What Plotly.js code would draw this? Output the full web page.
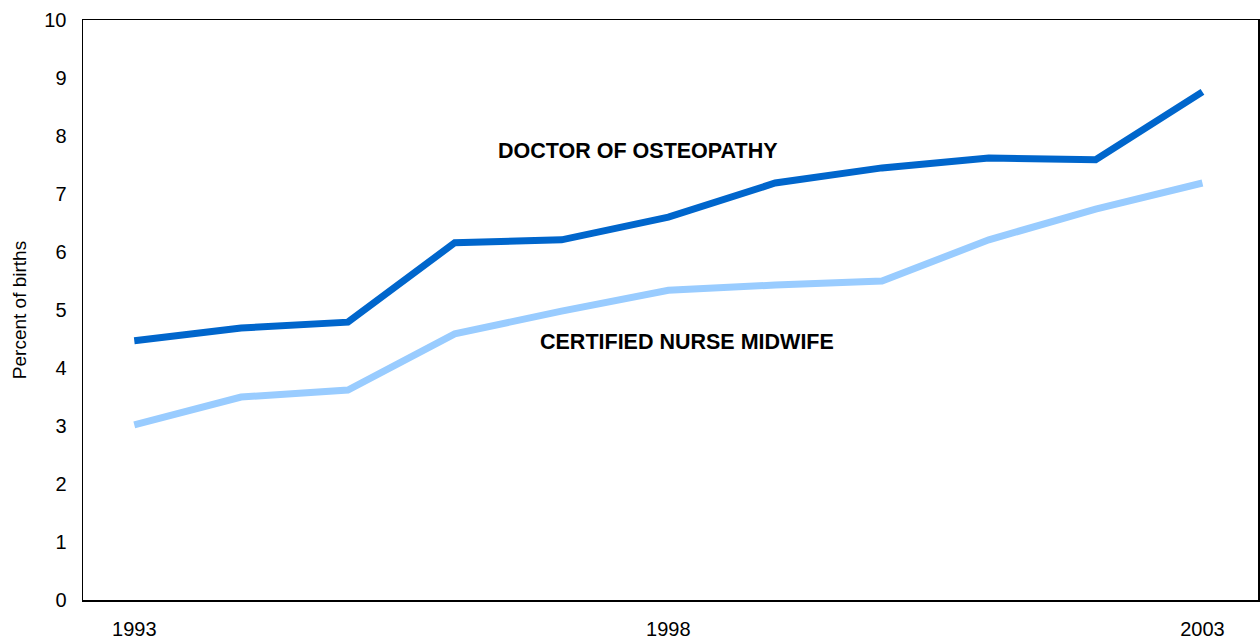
<!DOCTYPE html>
<html>
<head>
<meta charset="utf-8">
<script src="https://cdn.plot.ly/plotly-3.0.1.min.js"></script>
<style>html,body{margin:0;padding:0;background:#fff;}#chart{width:1260px;height:644px;}</style>
</head>
<body>
<div id="chart"></div>
<script>
const years = [1993,1994,1995,1996,1997,1998,1999,2000,2001,2002,2003];
const osteopathy = [4.47,4.69,4.79,6.16,6.21,6.60,7.19,7.45,7.62,7.59,8.76];
const midwife = [3.02,3.50,3.62,4.59,4.98,5.34,5.43,5.50,6.21,6.74,7.19];
const xTicks = [1993,1998,2003];
const yTicks = [0,1,2,3,4,5,6,7,8,9,10];
const seriesNames = ['DOCTOR OF OSTEOPATHY','CERTIFIED NURSE MIDWIFE'];

const traces = [
  {x: years, y: osteopathy, type:'scatter', mode:'lines', name: seriesNames[0],
   line:{color:'#0066CC', width:7}},
  {x: years, y: midwife, type:'scatter', mode:'lines', name: seriesNames[1],
   line:{color:'#99CCFF', width:7}}
];
const font = {family:'Liberation Sans, Arial, sans-serif', color:'#000'};
const layout = {
  width:1260, height:644,
  margin:{l:83, r:2, t:20, b:44},
  showlegend:false,
  paper_bgcolor:'#fff', plot_bgcolor:'#fff',
  font: font,
  xaxis:{range:[1992.52,2003.52], tickvals:xTicks, ticktext:xTicks.map(String),
    showgrid:false, zeroline:false, showline:true, linecolor:'#000', linewidth:1.5, mirror:true,
    ticks:'', ticklabelstandoff:10, tickfont:{size:20, family:font.family, color:'#000'}},
  yaxis:{range:[0,10], tickvals:yTicks, showgrid:false, zeroline:false,
    showline:true, linecolor:'#000', linewidth:1.5, mirror:true,
    ticks:'', ticklabelstandoff:11, tickfont:{size:20, family:font.family, color:'#000'},
    title:{text:'Percent of births', font:{size:19, family:font.family, color:'#000'}, standoff:12}},
  annotations:[
    {x:1997.72, y:7.75, xref:'x', yref:'y', text:'<b>'+seriesNames[0]+'</b>', showarrow:false,
     font:{size:21.5, family:font.family, color:'#000'}},
    {x:1998.17, y:4.45, xref:'x', yref:'y', text:'<b>'+seriesNames[1]+'</b>', showarrow:false,
     font:{size:21.5, family:font.family, color:'#000'}}
  ]
};
Plotly.newPlot('chart', traces, layout, {displayModeBar:false, staticPlot:true});
</script>
</body>
</html>
